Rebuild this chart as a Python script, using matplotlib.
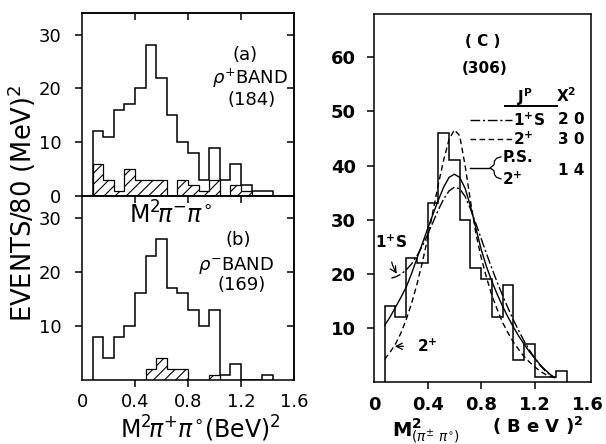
import numpy as np
import matplotlib
matplotlib.use('Agg')
import matplotlib.pyplot as plt

plt.rcParams['font.family'] = ['DejaVu Sans']
plt.rcParams['mathtext.fontset'] = 'dejavusans'
plt.rcParams['hatch.linewidth'] = 0.8

# Bordes de los bines de M^2 (BeV^2), 0.08 de ancho
bordes = [0.08, 0.16, 0.24, 0.32, 0.40, 0.48, 0.56, 0.64, 0.72, 0.80,
          0.88, 0.96, 1.04, 1.12, 1.20, 1.28, 1.36, 1.44]

# (a) banda rho+ : total y parte rayada
rho_mas = [12, 11, 16, 17, 20, 28, 22, 15, 10, 8, 3, 9, 3, 6, 2, 1, 1]
rho_mas_ray = [6, 3, 1, 5, 3, 3, 3, 0, 3, 2, 1, 3, 0, 2, 1, 0, 0]

# (b) banda rho- : total y parte rayada
rho_menos = [8, 4, 8, 10, 16, 23, 26, 17, 16, 13, 10, 13, 1, 3, 0, 0, 1]
rho_menos_ray = [0, 0, 0, 0, 0, 2, 4, 2, 2, 0, 0, 1, 0, 0, 0, 0, 0]

# (c) combinado (306 eventos)
combinado = [14, 12, 23, 22, 33, 46, 41, 30, 21, 19, 12, 18, 4, 7, 1, 1, 2]

# Curvas de ajuste
x_ps = [0.08, 0.12, 0.16, 0.20, 0.24, 0.28, 0.32, 0.36, 0.40, 0.44, 0.48, 0.52,
        0.56, 0.60, 0.64, 0.68, 0.72, 0.76, 0.80, 0.84, 0.88, 0.92, 0.96, 1.00,
        1.04, 1.08, 1.12, 1.16, 1.20, 1.24, 1.28, 1.32, 1.35]
y_ps = [10.5, 12.0, 13.8, 15.6, 17.5, 20.0, 22.8, 25.5, 28.3, 31.0, 33.6, 36.0,
        37.8, 38.4, 37.8, 35.8, 32.5, 28.5, 24.5, 21.3, 18.6, 16.2, 14.0, 12.0,
        10.2, 8.5, 7.0, 5.6, 4.4, 3.2, 2.2, 1.3, 0.8]

x_2p = x_ps
y_2p = [4.2, 5.5, 7.0, 9.0, 11.5, 14.5, 18.0, 22.0, 26.5, 31.5, 36.5, 41.0,
        44.8, 46.6, 45.5, 40.0, 33.5, 27.5, 23.0, 19.3, 16.0, 13.4, 11.0, 9.1,
        7.4, 6.0, 4.7, 3.7, 2.8, 2.0, 1.4, 1.0, 0.8]

x_1s = [0.13, 0.16, 0.20, 0.24, 0.28, 0.32, 0.36, 0.40, 0.44, 0.48, 0.52, 0.56,
        0.60, 0.64, 0.68, 0.72, 0.76, 0.80, 0.84, 0.88, 0.92, 0.96, 1.00, 1.04,
        1.08, 1.12, 1.16, 1.20, 1.24, 1.28, 1.32, 1.35]
y_1s = [19.2, 19.4, 19.9, 20.7, 21.8, 23.3, 25.1, 27.2, 29.5, 31.8, 33.8, 35.3,
        36.0, 35.7, 34.3, 32.0, 29.3, 26.5, 23.7, 21.0, 18.4, 16.0, 13.7, 11.5,
        9.5, 7.6, 5.9, 4.4, 3.1, 2.0, 1.2, 0.8]

W, H = 606, 444
fig = plt.figure(figsize=(W / 100, H / 100), dpi=100)
ax_a = fig.add_axes([82 / W, 1 - 196 / H, 212 / W, 183 / H])
ax_b = fig.add_axes([82 / W, 1 - 380 / H, 212 / W, 184 / H])
ax_c = fig.add_axes([374 / W, 1 - 382 / H, 217 / W, 368 / H])

lw = 1.1
for ax in (ax_a, ax_b, ax_c):
    for s in ax.spines.values():
        s.set_linewidth(lw)

# --- paneles (a) y (b) ---
for ax, tot, ray in ((ax_a, rho_mas, rho_mas_ray), (ax_b, rho_menos, rho_menos_ray)):
    ax.stairs(tot, bordes, color='k', linewidth=lw)
    ax.stairs(ray, bordes, fill=True, facecolor='none', edgecolor='k',
              hatch='///', linewidth=0.9)
    ax.set_xlim(0, 1.6)
    ax.set_ylim(0, 34)
    ax.tick_params(axis='y', direction='out', length=5, width=lw, labelsize=13, pad=10)
    ax.tick_params(axis='x', direction='out', length=5, width=lw, labelsize=13, pad=4)
    der = ax.secondary_yaxis('right')
    der.set_yticks([10, 20, 30])
    der.tick_params(direction='in', length=5, width=lw, labelright=False)
    der.spines['right'].set_linewidth(lw)
    arr = ax.secondary_xaxis('top')
    arr.set_xticks([0.4, 0.8, 1.2])
    arr.tick_params(direction='in', length=5, width=lw, labeltop=False)
    arr.spines['top'].set_linewidth(lw)

ax_a.set_yticks([0, 10, 20, 30])
ax_a.set_xticks([])
ax_b.set_yticks([10, 20, 30])
ax_b.set_xticks([0, 0.4, 0.8, 1.2, 1.6])
ax_b.set_xticklabels(['0', '0.4', '0.8', '1.2', '1.6'])
ax_b.xaxis.get_major_ticks()[0].tick1line.set_visible(False)
ax_b.xaxis.get_major_ticks()[-1].tick1line.set_visible(False)

ax_a.text(0.77, 0.77, '(a)', transform=ax_a.transAxes, ha='center', va='center', fontsize=13)
ax_a.text(0.79, 0.645, r'$\rho^{+}$BAND', transform=ax_a.transAxes, ha='center', va='center', fontsize=13)
ax_a.text(0.80, 0.525, '(184)', transform=ax_a.transAxes, ha='center', va='center', fontsize=13)

ax_b.text(0.736, 0.76, '(b)', transform=ax_b.transAxes, ha='center', va='center', fontsize=13)
ax_b.text(0.726, 0.625, r'$\rho^{-}$BAND', transform=ax_b.transAxes, ha='center', va='center', fontsize=13)
ax_b.text(0.755, 0.516, '(169)', transform=ax_b.transAxes, ha='center', va='center', fontsize=13)
ax_b.text(0.22, 0.895, r'M$^{2}\!\pi^{-}\pi^{\circ}$', transform=ax_b.transAxes,
          ha='left', va='center', fontsize=17)

fig.text(22 / W, 1 - 203 / H, 'EVENTS/80 (MeV)$^{2}$', rotation=90,
         ha='center', va='center', fontsize=18.5)
fig.text(120 / W, 1 - 429 / H, r'M$^{2}\!\pi^{+}\pi^{\circ}$(BeV)$^{2}$',
         ha='left', va='center', fontsize=17)

# --- panel (c) ---
ax_c.stairs(combinado, bordes, color='k', linewidth=lw)
ax_c.plot(x_ps, y_ps, color='k', linewidth=1.0)
ax_c.plot(x_2p, y_2p, color='k', linewidth=1.0, dashes=(4, 2.5))
ax_c.plot(x_1s, y_1s, color='k', linewidth=1.0, dashes=(7, 2, 1.5, 2))
ax_c.set_xlim(0, 1.62)
ax_c.set_ylim(0, 68)
ax_c.set_yticks([10, 20, 30, 40, 50, 60])
ax_c.set_xticks([0, 0.4, 0.8, 1.2, 1.6])
ax_c.set_xticklabels(['0', '0.4', '0.8', '1.2', '1.6'])
ax_c.tick_params(axis='y', direction='out', length=5, width=lw, pad=8)
ax_c.tick_params(axis='x', direction='out', length=5, width=lw, pad=5)
for t in ax_c.get_xticklabels() + ax_c.get_yticklabels():
    t.set_fontsize(13)
    t.set_fontweight('bold')
ax_c.xaxis.get_major_ticks()[0].tick1line.set_visible(False)
ax_c.xaxis.get_major_ticks()[-1].tick1line.set_visible(False)

tc = ax_c.transAxes
neg = dict(fontsize=11, fontweight='bold', transform=tc)
ax_c.text(0.50, 0.924, '( C )', ha='center', va='center', **neg)
ax_c.text(0.51, 0.853, '(306)', ha='center', va='center', **neg)
ax_c.text(0.66, 0.774, r'J$^{\mathbf{P}}$', ha='left', va='center', **neg)
ax_c.text(0.84, 0.777, r'X$^{\mathbf{2}}$', ha='left', va='center', **neg)
ax_c.plot([0.604, 0.843], [0.75, 0.75], color='k', linewidth=1.4, transform=tc)

ax_c.plot([0.442, 0.636], [0.712, 0.712], color='k', linewidth=1.0, dashes=(7, 2, 1.5, 2), transform=tc)
ax_c.text(0.64, 0.712, r'1$^{\mathbf{+}}$S', ha='left', va='center', **neg)
ax_c.text(0.848, 0.712, '2 0', ha='left', va='center', **neg)
ax_c.plot([0.442, 0.636], [0.660, 0.660], color='k', linewidth=1.0, dashes=(4, 2.5), transform=tc)
ax_c.text(0.64, 0.660, r'2$^{\mathbf{+}}$', ha='left', va='center', **neg)
ax_c.text(0.848, 0.660, '3 0', ha='left', va='center', **neg)
ax_c.plot([0.442, 0.535], [0.582, 0.582], color='k', linewidth=1.0, transform=tc)
# llave que agrupa P.S. y 2+
ax_c.plot([0.585, 0.565, 0.555, 0.553, 0.535, 0.553, 0.555, 0.565, 0.585],
          [0.612, 0.608, 0.600, 0.590, 0.582, 0.574, 0.564, 0.556, 0.552],
          color='k', linewidth=0.9, transform=tc)
ax_c.text(0.592, 0.611, 'P.S.', ha='left', va='center', **neg)
ax_c.text(0.592, 0.551, r'2$^{\mathbf{+}}$', ha='left', va='center', **neg)
ax_c.text(0.848, 0.576, '1 4', ha='left', va='center', **neg)

# flechas de etiqueta sobre las curvas
ax_c.annotate(r'1$^{\mathbf{+}}$S', xy=(0.17, 20.0), xytext=(0.13, 25.8),
              ha='center', va='center', fontsize=11, fontweight='bold',
              arrowprops=dict(arrowstyle='->', color='k', lw=0.9,
                              connectionstyle='arc3,rad=0.2', shrinkA=6, shrinkB=0))
ax_c.annotate(r'2$^{\mathbf{+}}$', xy=(0.155, 6.6), xytext=(0.40, 6.6),
              ha='center', va='center', fontsize=11, fontweight='bold',
              arrowprops=dict(arrowstyle='->', color='k', lw=0.9, shrinkA=8, shrinkB=0))

fig.text(392 / W, 1 - 431 / H, r'M$^{\mathbf{2}}_{(\pi^{\pm}\ \pi^{\circ})}$',
         ha='left', va='center', fontsize=14, fontweight='bold')
fig.text(492 / W, 1 - 426 / H, r'( B e V )$^{\mathbf{2}}$',
         ha='left', va='center', fontsize=13, fontweight='bold')

fig.savefig('out.png', dpi=100)
